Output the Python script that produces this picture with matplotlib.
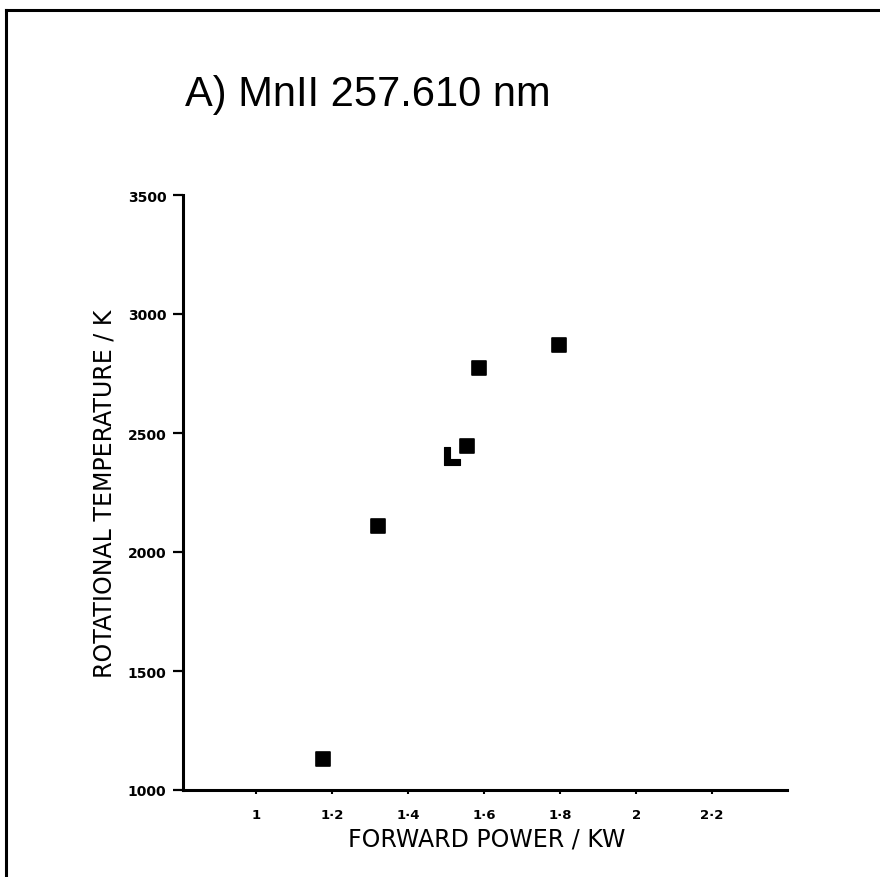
import matplotlib
matplotlib.use("Agg")
import matplotlib.pyplot as plt
from matplotlib.path import Path
from matplotlib.lines import Line2D

# Data
power_kw = [1.176, 1.321, 1.555, 1.587, 1.797]
temperature_k = [1130, 2109, 2445, 2773, 2870]
odd_power_kw = [1.516]
odd_temperature_k = [2403]

x_ticks = [1.0, 1.2, 1.4, 1.6, 1.8, 2.0, 2.2]
x_tick_labels = ["1", "1·2", "1·4", "1·6", "1·8", "2", "2·2"]
y_ticks = [1000, 1500, 2000, 2500, 3000, 3500]
y_tick_labels = ["1000", "1500", "2000", "2500", "3000", "3500"]

title = "A) MnII 257.610 nm"
x_label = "FORWARD POWER / KW"
y_label = "ROTATIONAL TEMPERATURE / K"

W, H = 880, 878
fig = plt.figure(figsize=(W / 100, H / 100), dpi=100)
fig.patch.set_facecolor("white")

# page frame (top and left borders of the scanned page)
fig.add_artist(Line2D([6 / W, 1.0], [1 - 11 / H, 1 - 11 / H], color="black", lw=2.2,
                      transform=fig.transFigure))
fig.add_artist(Line2D([6 / W, 6 / W], [0.0, 1 - 11 / H], color="black", lw=2.2,
                      transform=fig.transFigure))

ax = fig.add_axes([183 / W, 87 / H, (787 - 183) / W, (791 - 196) / H])
ax.set_xlim(0.808, 2.397)
ax.set_ylim(1000, 3500)

ax.scatter(power_kw, temperature_k, marker="s", s=10.5 ** 2, color="black",
           edgecolors="black", linewidths=1.2, zorder=3)

# L-shaped (partially printed) marker
l_path = Path([(-0.5, 0.6), (-0.15, 0.6), (-0.15, -0.2), (0.55, -0.2), (0.55, -0.6),
               (-0.5, -0.6), (-0.5, 0.6)],
              [Path.MOVETO] + [Path.LINETO] * 5 + [Path.CLOSEPOLY])
ax.scatter(odd_power_kw, odd_temperature_k, marker=l_path, s=13 ** 2, color="black",
           edgecolors="black", linewidths=0.8, zorder=3)

for side in ("top", "right"):
    ax.spines[side].set_visible(False)
ax.spines["left"].set_linewidth(2.2)
ax.spines["bottom"].set_linewidth(2.2)

ax.set_xticks(x_ticks)
ax.set_xticklabels(x_tick_labels, fontsize=9.5, fontweight="bold")
ax.set_yticks(y_ticks)
ax.set_yticklabels(y_tick_labels, fontsize=10, fontweight="bold")
ax.tick_params(axis="y", direction="out", length=7, width=1.6, pad=5)
ax.tick_params(axis="x", direction="out", length=3, width=1.5, pad=10)

ax.set_xlabel(x_label, fontsize=17)
ax.set_ylabel(y_label, fontsize=17)
ax.xaxis.set_label_coords((487 - 183) / (787 - 183), -(840 - 791) / (791 - 196))
ax.yaxis.set_label_coords(-(183 - 105) / (787 - 183), 0.5)
ax.xaxis.label.set_va("center")
ax.yaxis.label.set_va("center")

fig.text(185 / W, 1 - 95 / H, title, fontsize=30, ha="left", va="center",
         family="Liberation Sans")

fig.savefig("out.png", dpi=100, facecolor="white")
